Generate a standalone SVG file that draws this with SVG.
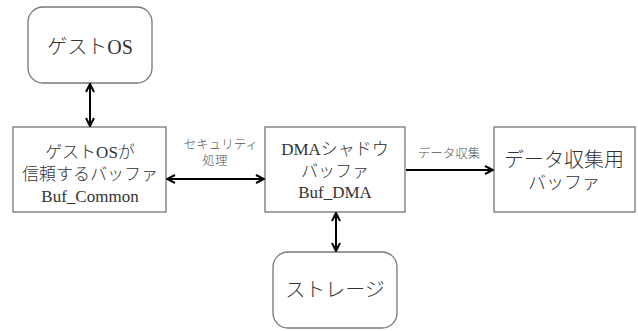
<svg xmlns="http://www.w3.org/2000/svg" width="638" height="331" viewBox="0 0 638 331">
  <defs>
    <marker id="arrow" viewBox="0 0 10 10" refX="9" refY="5" markerWidth="10" markerHeight="10" markerUnits="userSpaceOnUse" orient="auto-start-reverse">
      <path d="M1,1 L9,5 L1,9" fill="none" stroke="#000" stroke-width="2"/>
    </marker>
  </defs>
  <style>
    .box { fill: #fff; stroke: #777; stroke-width: 1.3; }
    .t { font-family: "Liberation Serif", "Times New Roman", "Noto Sans CJK JP", serif; font-weight: 300; fill: #333; text-anchor: middle; }
    .big { font-size: 20px; }
    .mid { font-size: 17px; }
    .lbl { font-size: 12.5px; fill: #555; }
    .edge { stroke: #000; stroke-width: 2; fill: none; marker-start: url(#arrow); marker-end: url(#arrow); }
    .one { stroke: #000; stroke-width: 2; fill: none; marker-end: url(#arrow); }
  </style>
  <rect width="638" height="331" fill="#fff"/>

  <g id="guest-os">
    <rect class="box" x="28" y="7" width="124" height="76" rx="15"/>
    <text class="t big" x="90" y="54">ゲストOS</text>
  </g>

  <g id="buf-common">
    <rect class="box" x="13" y="127" width="153" height="85"/>
    <text class="t mid" x="90" y="158">ゲストOSが</text>
    <text class="t mid" x="90" y="180">信頼するバッファ</text>
    <text class="t mid" x="90" y="202">Buf_Common</text>
  </g>

  <g id="buf-dma">
    <rect class="box" x="265" y="127" width="140" height="85"/>
    <text class="t mid" x="335" y="155">DMAシャドウ</text>
    <text class="t mid" x="335" y="177">バッファ</text>
    <text class="t mid" x="335" y="198">Buf_DMA</text>
  </g>

  <g id="collect-buf">
    <rect class="box" x="494" y="127" width="141" height="85"/>
    <text class="t big" x="564" y="167">データ収集用</text>
    <text class="t" font-size="18" x="564" y="189">バッファ</text>
  </g>

  <g id="storage">
    <rect class="box" x="273" y="252" width="124" height="76" rx="15"/>
    <text class="t big" x="335" y="297">ストレージ</text>
  </g>

  <g id="connectors">
    <line class="edge" x1="90" y1="84" x2="90" y2="126"/>
    <line class="edge" x1="167" y1="179" x2="264" y2="179"/>
    <line class="one" x1="406" y1="170" x2="493" y2="170"/>
    <line class="edge" x1="336" y1="213" x2="336" y2="251"/>
    <text class="t lbl" x="221" y="149">セキュリティ</text>
    <text class="t lbl" x="215" y="165">処理</text>
    <text class="t lbl" x="449" y="158">データ収集</text>
  </g>
</svg>
